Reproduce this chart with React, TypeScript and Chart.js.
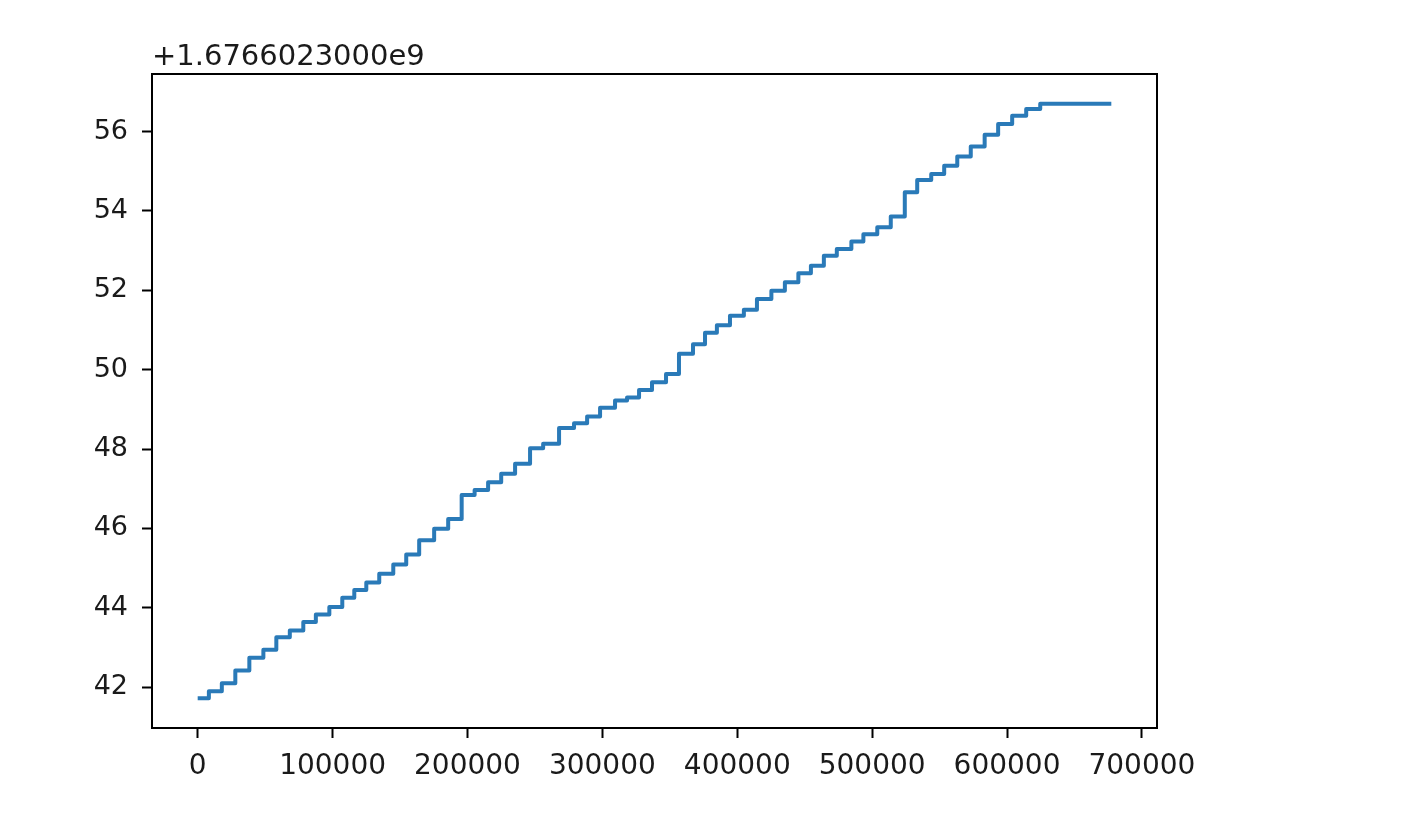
import React, { useEffect, useRef } from 'react';
import { Chart, registerables } from 'chart.js';

Chart.register(...registerables);

// sample index where each timestamp step starts (last entry = final sample)
const sampleIdx = [
  0, 8300, 17900, 27900, 38300, 48700, 58300, 68300, 78300, 87600,
  97600, 107200, 116100, 125000, 134600, 145000, 154600, 164200, 175300, 185700,
  195700, 205300, 215300, 225000, 235300, 246400, 256100, 267900, 279000, 288700,
  298300, 309400, 318300, 327200, 336800, 347200, 356800, 367200, 376100, 384900,
  394600, 404900, 414600, 425300, 435300, 445300, 454600, 464200, 473800, 484600,
  493500, 503800, 513800, 524200, 533400, 543800, 553400, 563100, 573100, 583400,
  593400, 603800, 614200, 624600, 677300,
];

// timestamp minus offset (seconds)
const tsOffset = 1676602300;
const tsValues = [
  41.72, 41.9, 42.1, 42.42, 42.74, 42.94, 43.26, 43.43, 43.64, 43.83,
  44.02, 44.25, 44.45, 44.64, 44.86, 45.09, 45.34, 45.7, 45.99, 46.24,
  46.84, 46.97, 47.16, 47.38, 47.63, 48.02, 48.13, 48.53, 48.65, 48.82,
  49.04, 49.22, 49.3, 49.49, 49.68, 49.89, 50.4, 50.64, 50.93, 51.12,
  51.36, 51.51, 51.78, 51.99, 52.2, 52.43, 52.62, 52.87, 53.04, 53.23,
  53.41, 53.59, 53.86, 54.47, 54.78, 54.93, 55.14, 55.37, 55.62, 55.92,
  56.19, 56.4, 56.57, 56.7, 56.7,
];

const xTicks = [0, 100000, 200000, 300000, 400000, 500000, 600000, 700000];
const yTicks = [42, 44, 46, 48, 50, 52, 54, 56];

const FONT = 'DejaVu Sans';
const TEXT = '#1a1a1a';

const frame = {
  id: 'frame',
  afterDraw(chart: Chart) {
    const { ctx, chartArea: a } = chart;
    ctx.save();
    ctx.strokeStyle = '#000';
    ctx.lineWidth = 2;
    ctx.strokeRect(a.left, a.top, a.right - a.left, a.bottom - a.top);
    // matplotlib style offset text
    ctx.fillStyle = TEXT;
    ctx.font = `29px "${FONT}"`;
    ctx.textAlign = 'left';
    ctx.textBaseline = 'alphabetic';
    ctx.fillText('+' + (tsOffset / 1e9).toFixed(10) + 'e9', a.left, 65);
    ctx.restore();
  },
};

export default function App() {
  const canvasRef = useRef<HTMLCanvasElement>(null);

  useEffect(() => {
    if (!canvasRef.current) return;
    const points = sampleIdx.map((x, i) => ({ x, y: tsValues[i] }));
    const span = sampleIdx[sampleIdx.length - 1] - sampleIdx[0];
    const ymin = Math.min(...tsValues);
    const ymax = Math.max(...tsValues);

    const chart = new Chart(canvasRef.current, {
      type: 'line',
      data: {
        datasets: [
          {
            data: points,
            stepped: true,
            borderColor: '#2a7ab8',
            borderWidth: 4,
            borderJoinStyle: 'round',
            pointRadius: 0,
            fill: false,
          },
        ],
      },
      options: {
        animation: false,
        responsive: true,
        maintainAspectRatio: false,
        layout: { padding: { top: 74, right: 253, left: 0, bottom: 0 } },
        plugins: { legend: { display: false }, tooltip: { enabled: false } },
        scales: {
          x: {
            type: 'linear',
            min: sampleIdx[0] - span * 0.05,
            max: sampleIdx[sampleIdx.length - 1] + span * 0.05,
            afterBuildTicks: (s: any) => {
              s.ticks = xTicks.map((v) => ({ value: v }));
            },
            afterFit: (s: any) => {
              s.height = 102;
            },
            border: { display: false },
            grid: { drawOnChartArea: false, drawTicks: true, tickLength: 10, tickWidth: 2, tickColor: '#000' },
            ticks: {
              color: TEXT,
              font: { family: FONT, size: 28 },
              padding: 12,
              maxRotation: 0,
              autoSkip: false,
              callback: (v: any) => String(v),
            },
          },
          y: {
            type: 'linear',
            min: ymin - (ymax - ymin) * 0.05,
            max: ymax + (ymax - ymin) * 0.05,
            afterBuildTicks: (s: any) => {
              s.ticks = yTicks.map((v) => ({ value: v }));
            },
            afterFit: (s: any) => {
              s.width = 152;
            },
            border: { display: false },
            grid: { drawOnChartArea: false, drawTicks: true, tickLength: 10, tickWidth: 2, tickColor: '#000' },
            ticks: {
              color: TEXT,
              font: { family: FONT, size: 27 },
              padding: 14,
              autoSkip: false,
              callback: (v: any) => String(v),
            },
          },
        },
      },
      plugins: [frame],
    });

    return () => {
      chart.destroy();
    };
  }, []);

  return (
    <div style={{ position: 'absolute', left: 0, top: 0, width: 1410, height: 830, background: '#fff' }}>
      <canvas ref={canvasRef}></canvas>
    </div>
  );
}
